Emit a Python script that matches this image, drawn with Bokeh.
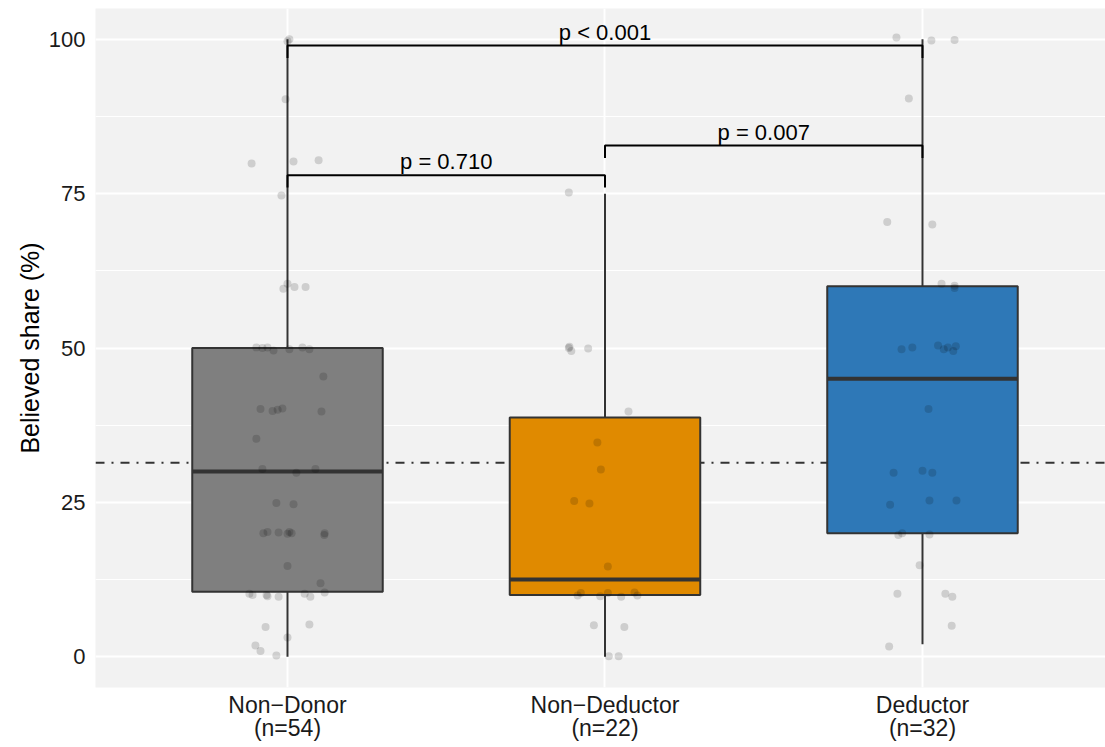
from bokeh.plotting import figure
from bokeh.models import Range1d, FixedTicker, Span, ColumnDataSource
from bokeh.embed import file_html
from bokeh.resources import INLINE
from bokeh.core.properties import value

# ---------------- data ----------------
categories = ["Non−Donor", "Non−Deductor", "Deductor"]
n_counts = [54, 22, 32]
box_colors = ["#7F7F7F", "#E08A00", "#2E78B7"]

q1 = [10.5, 10.0, 20.0]
median = [30.0, 12.5, 45.0]
q3 = [50.0, 38.75, 60.0]
whisker_lo = [0.0, 0.0, 2.0]
whisker_hi = [100.0, 75.0, 100.0]

reference_share = 31.4

# jittered observations (value, horizontal jitter in category units)
nondonor_y = [99.7, 90.3, 79.9, 80.2, 80.4, 74.7, 60.4, 59.6, 59.9, 59.9,
              50.1, 50.0, 50.1, 49.6, 49.8, 50.1, 49.8, 45.4, 40.1, 39.8,
              40.0, 40.2, 39.7, 35.3, 30.4, 29.8, 30.4, 24.9, 24.7, 20.0,
              20.2, 20.1, 19.9, 20.2, 20.0, 20.0, 19.7, 14.7, 11.9, 10.2,
              10.0, 10.0, 9.8, 9.7, 10.2, 9.7, 10.4, 4.8, 5.2, 3.1,
              1.8, 0.9, 0.2, 100.0]
nondonor_jit = [0.000, -0.006, -0.113, 0.019, 0.098, -0.019, 0.000, -0.013, 0.022, 0.057,
                -0.098, -0.079, -0.063, -0.044, 0.006, 0.047, 0.069, 0.113, -0.085, -0.047,
                -0.031, -0.016, 0.107, -0.098, -0.079, 0.028, 0.088, -0.035, 0.019, -0.076,
                -0.063, -0.028, 0.000, 0.006, 0.013, 0.117, 0.116, 0.000, 0.104, -0.120,
                -0.110, -0.066, -0.063, -0.028, 0.054, 0.072, 0.117, -0.069, 0.069, 0.000,
                -0.101, -0.085, -0.035, 0.006]

nondeductor_y = [75.2, 50.0, 49.5, 49.9, 39.7, 34.7, 30.3, 25.2, 24.8, 14.6,
                 9.9, 10.3, 9.8, 10.3, 9.7, 10.4, 9.9, 5.1, 4.8, 0.05,
                 0.05, 50.2]
nondeductor_jit = [-0.114, -0.114, -0.106, -0.053, 0.074, -0.024, -0.013, -0.097, -0.049, 0.009,
                   -0.086, -0.076, -0.015, 0.009, 0.051, 0.093, 0.102, -0.035, 0.061, 0.012,
                   0.043, -0.112]

deductor_y = [100.3, 99.8, 99.9, 90.4, 70.4, 70.0, 60.4, 60.1, 59.7, 49.8,
              50.1, 50.4, 49.8, 50.1, 49.5, 50.3, 40.1, 29.8, 30.1, 29.8,
              24.6, 25.3, 25.3, 19.7, 20.0, 19.8, 14.8, 10.2, 10.2, 9.7,
              5.0, 1.65]
deductor_jit = [-0.082, 0.028, 0.101, -0.043, -0.111, 0.031, 0.060, 0.101, 0.101, -0.066,
                -0.032, 0.049, 0.067, 0.080, 0.097, 0.105, 0.019, -0.091, 0.000, 0.031,
                -0.102, 0.022, 0.107, -0.076, -0.064, 0.022, -0.009, -0.079, 0.072, 0.094,
                0.092, -0.105]

# significance comparisons
comp_from = [1, 1, 2]
comp_to = [2, 3, 3]
comp_labels = ["p = 0.710", "p < 0.001", "p = 0.007"]
comp_height = [78.0, 99.0, 82.8]

y_title = "Believed share (%)"

# ---------------- figure ----------------
FONT = "Liberation Sans"
xpos = [1, 2, 3]

p = figure(width=1105, height=747, output_backend="svg", toolbar_location=None,
           x_range=Range1d(0.3953, 3.5764), y_range=Range1d(-5.0, 105.0),
           min_border_left=95, min_border_right=0, min_border_top=8, min_border_bottom=60)
p.background_fill_color = "#F2F2F2"
p.border_fill_color = "white"
p.outline_line_color = None

# grid
p.ygrid.ticker = FixedTicker(ticks=[0, 25, 50, 75, 100], minor_ticks=[12.5, 37.5, 62.5, 87.5])
p.ygrid.grid_line_color = "white"
p.ygrid.grid_line_width = 2
p.ygrid.minor_grid_line_color = "white"
p.ygrid.minor_grid_line_width = 1
p.xgrid.ticker = FixedTicker(ticks=xpos)
p.xgrid.grid_line_color = "white"
p.xgrid.grid_line_width = 2

# axes
p.xaxis.ticker = FixedTicker(ticks=xpos)
p.xaxis.major_label_overrides = {x: f"{c}\n(n={n})" for x, c, n in zip(xpos, categories, n_counts)}
p.yaxis.ticker = FixedTicker(ticks=[0, 25, 50, 75, 100])
for ax in (p.xaxis, p.yaxis):
    ax.axis_line_color = None
    ax.major_tick_line_color = None
    ax.minor_tick_line_color = None
    ax.major_tick_in = 0
    ax.major_tick_out = 0
    ax.minor_tick_in = 0
    ax.minor_tick_out = 0
    ax.major_label_text_font = FONT
    ax.major_label_text_color = "#1A1A1A"
p.xaxis.major_label_text_font_size = "23px"
p.yaxis.major_label_text_font_size = "22px"
p.xaxis.major_label_standoff = 4
p.xaxis.major_label_text_line_height = 0.9
p.yaxis.major_label_standoff = 10
p.yaxis.axis_label = y_title
p.yaxis.axis_label_text_font = FONT
p.yaxis.axis_label_text_font_size = "25px"
p.yaxis.axis_label_text_font_style = "normal"
p.yaxis.axis_label_text_color = "black"
p.yaxis.axis_label_standoff = 2

# reference line (behind boxes)
p.add_layout(Span(location=reference_share, dimension="width", line_color="#333333",
                  line_width=2, line_dash="9 7 2 7", level="underlay"))

# whiskers
p.segment(x0=xpos, y0=whisker_lo, x1=xpos, y1=q1, line_color="#333333", line_width=2)
p.segment(x0=xpos, y0=q3, x1=xpos, y1=whisker_hi, line_color="#333333", line_width=2)

# boxes
box_src = ColumnDataSource(dict(x=xpos, q1=q1, q3=q3, med=median, color=box_colors))
p.vbar(x="x", width=0.6, bottom="q1", top="q3", fill_color="color",
       line_color="#333333", line_width=2, source=box_src)
p.segment(x0=[x - 0.3 for x in xpos], y0=median, x1=[x + 0.3 for x in xpos], y1=median,
          line_color="#333333", line_width=4)

# jittered points
for cx, ys, js in zip(xpos, [nondonor_y, nondeductor_y, deductor_y],
                      [nondonor_jit, nondeductor_jit, deductor_jit]):
    p.scatter(x=[cx + j for j in js], y=ys, size=8, fill_color="black", fill_alpha=0.15,
              line_color=None)

# significance brackets
tip = 2.0
for a, b, h, lab in zip(comp_from, comp_to, comp_height, comp_labels):
    p.line(x=[a, a, b, b], y=[h - tip, h, h, h - tip], line_color="black", line_width=2)
    p.text(x=[(a + b) / 2], y=[h], text=[lab], text_font=value(FONT), y_offset=-1,
           text_font_size="22px", text_align="center", text_baseline="bottom",
           text_color="black")

open("out.html", "w").write(file_html(p, INLINE))
